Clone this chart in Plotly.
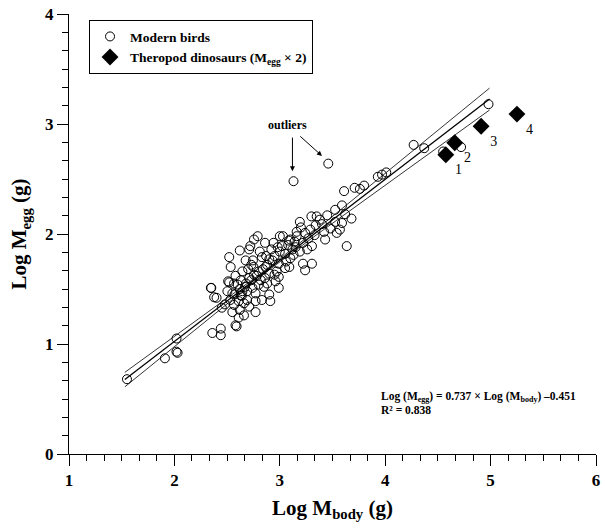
import plotly.graph_objects as go
import numpy as np

# Modern birds (log body mass, log egg mass)
bird_x = [1.55, 1.91, 2.02, 2.02, 2.03, 2.36, 2.44, 2.44, 2.59, 2.35, 2.40,
          2.346, 2.377, 2.503, 2.55, 2.60, 2.645, 2.69, 2.74, 2.80, 2.88, 2.96, 2.99,
          2.90, 2.83, 2.77, 2.71, 2.66, 2.61, 2.566, 2.55, 2.62, 2.66, 2.61, 2.58,
          2.77, 2.91, 2.85, 2.77, 2.69,
          2.52, 2.534, 2.676, 2.745, 2.83, 2.93, 2.99, 3.05, 3.12, 3.15, 3.19, 3.05,
          2.99, 2.90, 2.865, 2.80, 2.755, 2.71, 2.645, 2.63, 2.566, 2.52,
          2.79, 2.755, 2.71, 2.62, 2.86, 2.94, 3.02, 3.085, 3.16, 3.16, 3.24, 3.29,
          3.305, 3.305, 3.24, 3.22, 3.43, 3.635, 3.54, 3.57,
          3.19, 3.30, 3.35, 3.45, 3.525, 3.40, 3.525, 3.59, 3.68, 3.62, 3.59,
          3.61, 3.71, 3.76, 3.80, 3.93, 3.97, 4.01, 4.27, 4.37, 4.55, 4.72, 4.98,
          3.13, 3.46,
          2.68, 2.73, 2.78, 2.84, 2.88, 2.95, 3.00, 3.08, 3.10, 2.57, 2.62, 2.70,
          2.82, 2.87, 2.97, 3.03, 3.10, 3.20, 3.27, 3.34, 2.48, 2.53, 2.64, 2.75,
          2.92, 3.00, 3.14, 3.38,
          2.58, 2.67, 2.73, 2.86, 2.95, 3.06, 3.13, 3.22, 3.33, 3.48, 2.45, 2.51,
          2.63, 2.81, 2.98, 3.09, 3.26, 3.42, 2.72, 2.90]
bird_y = [0.68, 0.87, 1.05, 0.93, 0.92, 1.10, 1.14, 1.08, 1.16, 1.51, 1.42,
          1.51, 1.425, 1.48, 1.46, 1.54, 1.48, 1.48, 1.51, 1.54, 1.55, 1.57, 1.51,
          1.45, 1.40, 1.39, 1.34, 1.37, 1.39, 1.355, 1.29, 1.31, 1.26, 1.24, 1.17,
          1.29, 1.39, 1.52, 1.46, 1.40,
          1.79, 1.70, 1.76, 1.76, 1.79, 1.76, 1.73, 1.82, 1.86, 1.88, 1.84, 1.69,
          1.61, 1.64, 1.70, 1.66, 1.63, 1.60, 1.66, 1.58, 1.55, 1.56,
          1.98, 1.95, 1.86, 1.85, 1.92, 1.92, 1.89, 1.94, 1.98, 2.02, 2.01, 2.04,
          1.89, 1.73, 1.67, 1.73, 1.95, 1.89, 2.01, 2.04,
          2.11, 2.16, 2.16, 2.17, 2.22, 2.09, 2.11, 2.10, 2.14, 2.18, 2.26,
          2.39, 2.42, 2.41, 2.44, 2.52, 2.54, 2.56, 2.81, 2.78, 2.75, 2.79, 3.18,
          2.48, 2.64,
          1.55, 1.58, 1.62, 1.68, 1.72, 1.80, 1.84, 1.90, 1.95, 1.45, 1.50, 1.68,
          1.58, 1.80, 1.66, 1.98, 1.78, 2.06, 1.96, 2.08, 1.36, 1.40, 1.44, 1.70,
          1.86, 1.98, 1.93, 2.13,
          1.62, 1.52, 1.72, 1.60, 1.63, 1.75, 1.81, 1.92, 1.99, 2.05, 1.33, 1.57,
          1.44, 1.84, 1.88, 1.70, 1.86, 2.02, 1.89, 1.77]

# Theropod dinosaurs (M_egg x 2)
dino_x = [4.575, 4.66, 4.91, 5.25]
dino_y = [2.72, 2.83, 2.98, 3.09]
dino_labels = ["1", "2", "3", "4"]

# Regression fit
slope, intercept = 0.737, -0.451
fit_range = [1.53, 4.99]
band_center, band_a, band_b = 2.9, 0.012, 0.0473

xs = np.linspace(fit_range[0], fit_range[1], 60)
ys = slope * xs + intercept
hw = np.sqrt(band_a ** 2 + band_b ** 2 * (xs - band_center) ** 2)

FONT = "Liberation Serif"
fig = go.Figure()
fig.add_trace(go.Scatter(x=xs, y=ys + hw, mode="lines", line=dict(color="black", width=0.8),
                         showlegend=False, hoverinfo="skip"))
fig.add_trace(go.Scatter(x=xs, y=ys - hw, mode="lines", line=dict(color="black", width=0.8),
                         showlegend=False, hoverinfo="skip"))
fig.add_trace(go.Scatter(x=xs, y=ys, mode="lines", line=dict(color="black", width=1.3),
                         showlegend=False, hoverinfo="skip"))
fig.add_trace(go.Scatter(x=bird_x, y=bird_y, mode="markers", name="Modern birds",
                         marker=dict(symbol="circle-open", size=9, color="black",
                                     line=dict(width=1, color="black"))))
fig.add_trace(go.Scatter(x=dino_x, y=dino_y, mode="markers+text", text=dino_labels,
                         textposition="bottom right",
                         textfont=dict(family=FONT, size=14, color="#000000"),
                         name="Theropod dinosaurs (M<sub>egg</sub> × 2)",
                         marker=dict(symbol="diamond", size=13, color="black")))

fig.add_annotation(x=3.075, y=2.99, text="outliers", showarrow=False,
                   font=dict(family=FONT, size=12, color="black", weight="bold"))
fig.add_annotation(x=3.12, y=2.57, ax=3.12, ay=2.89, xref="x", yref="y", axref="x", ayref="y",
                   showarrow=True, arrowhead=2, arrowsize=1, arrowwidth=1, arrowcolor="black", text="")
fig.add_annotation(x=3.40, y=2.71, ax=3.18, ay=2.90, xref="x", yref="y", axref="x", ayref="y",
                   showarrow=True, arrowhead=2, arrowsize=1, arrowwidth=1, arrowcolor="black", text="")
fig.add_annotation(x=3.94, y=0.52, xanchor="left", showarrow=False,
                   text="Log (M<sub>egg</sub>) = 0.737 × Log (M<sub>body</sub>) –0.451",
                   font=dict(family=FONT, size=11.5, color="black", weight="bold"))
fig.add_annotation(x=3.94, y=0.40, xanchor="left", showarrow=False,
                   text="R² = 0.838",
                   font=dict(family=FONT, size=11.5, color="black", weight="bold"))

axis_common = dict(showline=True, linecolor="black", linewidth=1, ticks="outside",
                   tickcolor="black", tickwidth=1, ticklen=11, showgrid=False, zeroline=False,
                   tickfont=dict(family=FONT, size=17, color="black", weight="bold"),
                   minor=dict(ticks="outside", ticklen=6, tickcolor="black", tickwidth=1,
                              dtick=1 / 6, showgrid=False))
fig.update_xaxes(range=[1, 6], tickvals=[1, 2, 3, 4, 5, 6], **axis_common,
                 title=dict(text="Log M<sub>body</sub> (g)", standoff=10,
                            font=dict(family=FONT, size=21, color="black", weight="bold")))
fig.update_yaxes(range=[0, 4], tickvals=[0, 1, 2, 3, 4], **axis_common,
                 title=dict(text="Log M<sub>egg</sub> (g)", standoff=12,
                            font=dict(family=FONT, size=21, color="black", weight="bold")))
fig.update_layout(width=605, height=531, margin=dict(l=69, r=5, t=14, b=77),
                  plot_bgcolor="white", paper_bgcolor="white",
                  legend=dict(x=0.038, y=0.986, xanchor="left", yanchor="top",
                              bordercolor="black", borderwidth=1, bgcolor="white",
                              font=dict(family=FONT, size=13.5, color="black", weight="bold"),
                              tracegroupgap=0, itemsizing="trace", itemwidth=30))
fig.write_html("out.html")
